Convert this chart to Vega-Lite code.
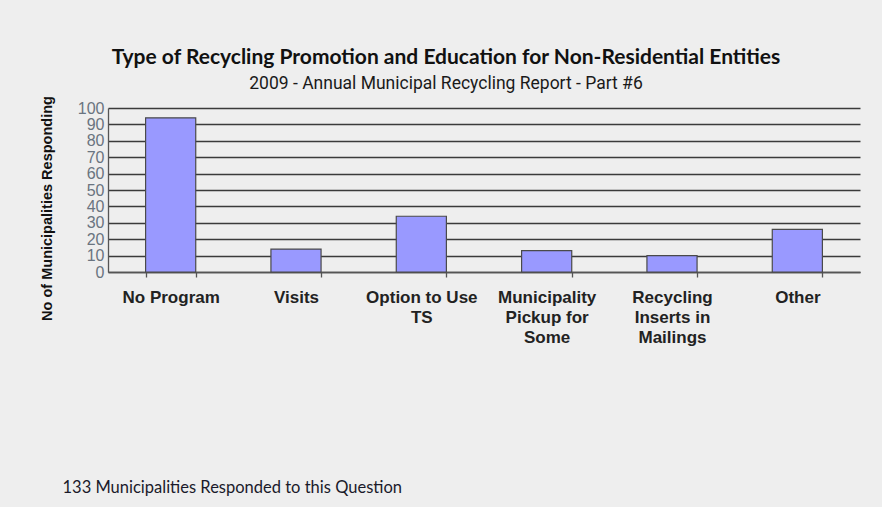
{
  "$schema": "https://vega.github.io/schema/vega-lite/v6.json",
  "autosize": "none",
  "width": 752,
  "height": 164,
  "padding": {"left": 108, "top": 108, "right": 22, "bottom": 235},
  "background": "#EEEEEE",
  "title": {
    "text": "Type of Recycling Promotion and Education for Non-Residential Entities",
    "subtitle": "2009 - Annual Municipal Recycling Report - Part #6",
    "anchor": "middle",
    "dx": -38,
    "offset": 1,
    "font": "Lato",
    "fontSize": 21,
    "fontWeight": "bold",
    "color": "#111111",
    "subtitleFont": "Roboto",
    "subtitleFontSize": 17.5,
    "subtitleColor": "#1a1a1a",
    "subtitlePadding": 7
  },
  "data": {
    "values": [
      {"category": "No Program", "count": 94},
      {"category": "Visits", "count": 14},
      {"category": "Option to Use TS", "count": 34},
      {"category": "Municipality Pickup for Some", "count": 13},
      {"category": "Recycling Inserts in Mailings", "count": 10},
      {"category": "Other", "count": 26}
    ]
  },
  "mark": {"type": "bar", "color": "#9999FF", "stroke": "#4a4a4a", "strokeWidth": 1.2},
  "encoding": {
    "x": {
      "field": "category",
      "type": "nominal",
      "sort": null,
      "scale": {"paddingInner": 0.6, "paddingOuter": 0.3},
      "axis": {
        "title": "133 Municipalities  Responded to this Question",
        "titleFont": "Lato",
        "titleFontSize": 16.5,
        "titleFontWeight": "normal",
        "titleColor": "#1a1a2a",
        "titleAnchor": "start",
        "titleAlign": "left",
        "titleBaseline": "alphabetic",
        "titleX": -46,
        "titleY": 220,
        "labelAngle": 0,
        "labelFont": "Liberation Sans",
        "labelFontSize": 17,
        "labelFontWeight": "bold",
        "labelColor": "#222222",
        "labelBaseline": "top",
        "labelLineHeight": 20,
        "labelPadding": 12,
        "labelLimit": 200,
        "labelExpr": "datum.value == 'Option to Use TS' ? ['Option to Use', 'TS'] : datum.value == 'Municipality Pickup for Some' ? ['Municipality', 'Pickup for', 'Some'] : datum.value == 'Recycling Inserts in Mailings' ? ['Recycling', 'Inserts in', 'Mailings'] : datum.value",
        "tickBand": "extent",
        "tickSize": 5,
        "tickColor": "#555555",
        "tickWidth": 1.3,
        "domainColor": "#555555",
        "domainWidth": 1.3,
        "grid": false
      }
    },
    "y": {
      "field": "count",
      "type": "quantitative",
      "scale": {"domain": [0, 100], "nice": false},
      "axis": {
        "title": "No of Municipalities  Responding",
        "titleFont": "Liberation Sans",
        "titleFontSize": 14.5,
        "titleFontWeight": "bold",
        "titleColor": "#111111",
        "titleX": -61,
        "titleY": 100,
        "titleBaseline": "middle",
        "titleAngle": -90,
        "values": [0, 10, 20, 30, 40, 50, 60, 70, 80, 90, 100],
        "labelFont": "Liberation Sans",
        "labelFontSize": 16,
        "labelColor": "#6a7480",
        "labelPadding": 4,
        "labelOverlap": false,
        "labelFlush": false,
        "tickSize": 0,
        "domainColor": "#555555",
        "domainWidth": 1.3,
        "grid": true,
        "gridColor": "#3a3a3a",
        "gridWidth": 1.4
      }
    }
  },
  "config": {"view": {"stroke": null}}
}
